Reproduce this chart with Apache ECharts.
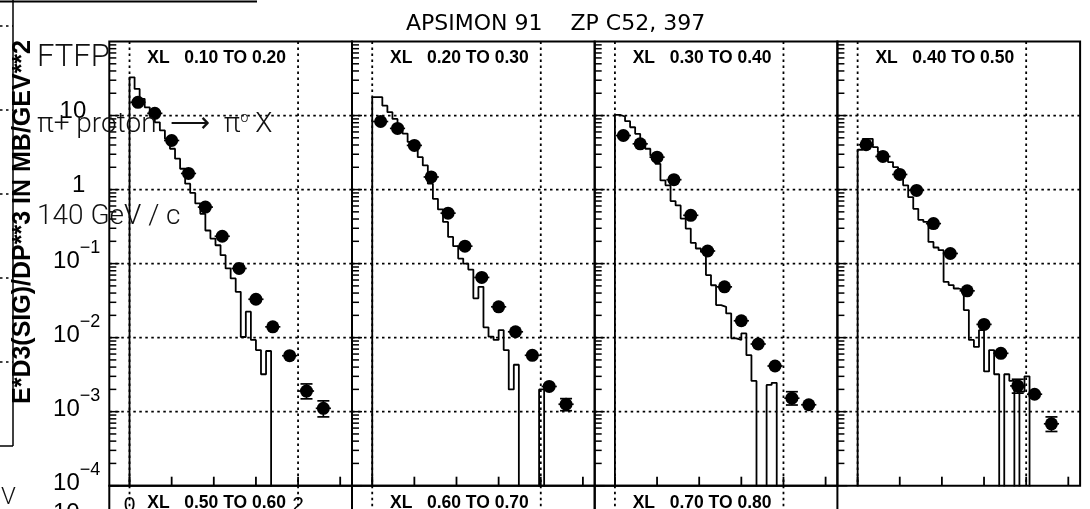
<!DOCTYPE html>
<html>
<head>
<meta charset="utf-8">
<script src="https://cdn.jsdelivr.net/npm/echarts@6.0.0/dist/echarts.min.js"></script>
<style>
html,body{margin:0;padding:0;background:#fff;}
#c{width:1090px;height:509px;}
</style>
</head>
<body>
<div id="c"></div>
<script>
// ---------------- data ----------------
const chartTitle = 'APSIMON 91    ZP C52, 397';
const panelTitles = ['XL   0.10 TO 0.20', 'XL   0.20 TO 0.30', 'XL   0.30 TO 0.40', 'XL   0.40 TO 0.50'];
const nextRowTitles = ['XL   0.50 TO 0.60', 'XL   0.60 TO 0.70', 'XL   0.70 TO 0.80'];
const yAxisTitle = 'E*D3(SIG)/DP**3 IN MB/GEV**2';

// pT of the measured points (GeV/c) and half bin width
const ptPoints = [0.1, 0.3, 0.5, 0.7, 0.9, 1.1, 1.3, 1.5, 1.7, 1.9, 2.1, 2.3];
const ptHalfWidth = 0.09;

// measured cross sections per XL bin
const data1 = [15.1, 10.7, 4.6, 1.65, 0.58, 0.234, 0.086, 0.033, 0.0140, 0.0057, 0.0019, 0.00111];
const data2 = [8.3, 6.7, 3.95, 1.48, 0.48, 0.172, 0.065, 0.0261, 0.0120, 0.00577, 0.00219, 0.00126];
const data3 = [5.37, 4.15, 2.74, 1.36, 0.449, 0.148, 0.0485, 0.0169, 0.0082, 0.00414, 0.00152, 0.00124];
const data4 = [4.03, 2.80, 1.60, 0.975, 0.347, 0.137, 0.0429, 0.0151, 0.00614, 0.00223, 0.00172, 0.000686];

// visible vertical error bars (null = hidden inside marker)
const errLo1 = [null, null, null, null, null, null, null, null, null, null, 0.00149, 0.00085];
const errHi1 = [null, null, null, null, null, null, null, null, null, null, 0.00237, 0.00140];
const errLo2 = [null, null, null, null, null, null, null, null, null, null, null, 0.00103];
const errHi2 = [null, null, null, null, null, null, null, null, null, null, null, 0.00150];
const errLo3 = [null, null, null, null, null, null, null, null, null, null, 0.00123, null];
const errHi3 = [null, null, null, null, null, null, null, null, null, null, 0.00186, null];
const errLo4 = [null, null, null, null, null, null, null, null, null, 0.00178, null, 0.00054];
const errHi4 = [null, null, null, null, null, null, null, null, null, 0.00274, null, 0.00085];

// FTFP Monte Carlo histograms, bins of 0.06 GeV/c starting at 0
const histBinWidth = 0.06;
const hist1 = [32.8, 22.9, 16.8, 12.9, 10.5, 8.1, 6.3, 4.85, 3.56, 2.61, 1.91, 1.20, 0.90, 0.65, 0.47, 0.28,
  0.218, 0.177, 0.130, 0.086, 0.063, 0.0416, 0.0102, 0.0224, 0.0093, 0.0068, 0.0032, 0.0066];
const hist2 = [17.7, 17.7, 13.6, 11.1, 9.0, 7.3, 5.7, 4.4, 3.7, 2.74, 2.12, 1.20, 0.75, 0.54, 0.365, 0.229,
  0.172, 0.117, 0.100, 0.083, 0.034, 0.0485, 0.0138, 0.0103, 0.0093, 0.0126, 0.0068, 0.0020, 0.0043,
  0, 0, 0, 0, 0.0020];
const hist3 = [10.2, 9.7, 8.4, 6.95, 5.66, 4.37, 3.56, 2.89, 2.23, 1.33, 1.14, 0.70, 0.61, 0.406, 0.297, 0.190,
  0.160, 0.144, 0.070, 0.051, 0.0275, 0.0261, 0.0212, 0.0098, 0.0093, 0.0114, 0.0058, 0.0026, 0, 0,
  0.0023, 0.00245];
const hist4 = [3.45, 4.85, 4.85, 3.74, 3.2, 2.74, 2.35, 2.01, 1.82, 1.14, 0.79, 0.55, 0.39, 0.365, 0.196, 0.165,
  0.152, 0.0566, 0.0512, 0.0461, 0.0439, 0.0236, 0.0093, 0.0075, 0.0126, 0.0035, 0.0068, 0.0032, 0,
  0.0032, 0.0026, 0, 0.00186, 0.0030];

// axis ticks / labels
const xRange = [-0.24, 2.64];
const yRange = [1e-4, 100];
const xTickValues = [0, 0.5, 1, 1.5, 2, 2.5];
const xGridValues = [0, 2];
const xLabelValues = [0, 2];
const xLabelTexts = ['0', '2'];
const yGridValues = [1e-3, 1e-2, 1e-1, 1, 10];
const yLabelExponents = [-4, -3, -2, -1, 0, 1];
const yLabelTexts = ['10{s|−4}', '10{s|−3}', '10{s|−2}', '10{s|−1}', '{p|1}', '{q|10}'];

// ---------------- layout ----------------
const gridLefts = [109.3, 352, 594.7, 837.4];
const gridWidth = 242.7;
const gridTop = 41.5;
const gridHeight = 444.2;

const chart = echarts.init(document.getElementById('c'), null, {renderer: 'canvas'});

const grids = [], xAxes = [], yAxes = [], series = [];
const dataSets = [data1, data2, data3, data4];
const errLoSets = [errLo1, errLo2, errLo3, errLo4];
const errHiSets = [errHi1, errHi2, errHi3, errHi4];
const histSets = [hist1, hist2, hist3, hist4];
const FONT = '"Liberation Sans", Arial, sans-serif';

function ln(x1, y1, x2, y2, style) {
  return {type: 'line', shape: {x1: x1, y1: y1, x2: x2, y2: y2}, style: style};
}

function decorSeries(idx, title, topRow) {
  return {
    type: 'custom', xAxisIndex: idx, yAxisIndex: idx, data: [[1, 1]], silent: true, z: 1, clip: false,
    renderItem: function (params, api) {
      const cs = params.coordSys;
      const ch = [];
      const dotted = {stroke: '#000', lineWidth: 1.8, lineDash: [2.5, 3.5]};
      const solid = {stroke: '#000', lineWidth: 1.5};
      xGridValues.forEach(function (v) {
        const px = api.coord([v, 1])[0];
        ch.push(ln(px, cs.y, px, cs.y + cs.height, dotted));
      });
      if (topRow) {
        yGridValues.forEach(function (v) {
          const py = api.coord([1, v])[1];
          ch.push(ln(cs.x, py, cs.x + cs.width, py, dotted));
        });
        for (let d = -4; d <= 1; d++) {
          for (let m = 1; m <= 9; m++) {
            const v = m * Math.pow(10, d);
            const py = api.coord([1, v])[1];
            const len = m === 1 ? 10 : 7;
            ch.push(ln(cs.x, py, cs.x + len, py, solid));
          }
        }
        xTickValues.forEach(function (v) {
          const px = api.coord([v, 1])[0];
          const yb = cs.y + cs.height;
          ch.push(ln(px, yb, px, yb - 9, {stroke: '#000', lineWidth: 1.8}));
        });
      }
      ch.push({
        type: 'text', x: cs.x + 38, y: cs.y + 8,
        style: {text: title, font: 'bold 17.5px ' + FONT, fill: '#000',
          textAlign: 'left', textVerticalAlign: 'top', align: 'left', verticalAlign: 'top'}
      });
      return {type: 'group', children: ch};
    }
  };
}

function histLine(vals) {
  const floor = 1e-9;
  const pts = [[0, floor]];
  vals.forEach(function (v, k) { pts.push([k * histBinWidth, v > 0 ? v : floor]); });
  pts.push([vals.length * histBinWidth, floor]);
  return pts;
}

// top row
for (let i = 0; i < 4; i++) {
  grids.push({left: gridLefts[i], top: gridTop, width: gridWidth, height: gridHeight,
    show: true, borderColor: '#000', borderWidth: 2, backgroundColor: 'transparent',
    containLabel: false, outerBoundsMode: 'none'});
  xAxes.push({
    type: 'value', gridIndex: i, min: xRange[0], max: xRange[1],
    axisLine: {show: false}, axisTick: {show: false}, splitLine: {show: false},
    axisLabel: i === 0 ? {
      show: true, customValues: xLabelValues, margin: 9, color: '#000', fontSize: 21, fontFamily: FONT,
      formatter: function (v) { const k = xLabelValues.indexOf(Math.round(v * 100) / 100); return k >= 0 ? xLabelTexts[k] : ''; }
    } : {show: false}
  });
  yAxes.push({
    type: 'log', logBase: 10, gridIndex: i, min: yRange[0], max: yRange[1], splitNumber: 6,
    axisLine: {show: false}, axisTick: {show: false}, splitLine: {show: false},
    axisLabel: i === 0 ? {
      show: true, margin: 9, showMaxLabel: false, color: '#000',
      formatter: function (v) {
        const e = Math.round(Math.log10(v));
        const k = yLabelExponents.indexOf(e);
        return k >= 0 ? yLabelTexts[k] : '';
      },
      rich: {
        s: {fontSize: 18, fontFamily: FONT, color: '#000', lineHeight: 20, verticalAlign: 'top'},
        p: {fontSize: 24, fontFamily: FONT, color: '#000', lineHeight: 46, padding: [0, 15, 4, 0]},
        q: {fontSize: 24, fontFamily: FONT, color: '#000', lineHeight: 46, padding: [0, 14, 4, 0]}
      },
      fontSize: 24, fontFamily: FONT, lineHeight: 46, padding: [0, 0, 4, 0]
    } : {show: false}
  });
  series.push(decorSeries(i, panelTitles[i], true));
  series.push({
    type: 'line', xAxisIndex: i, yAxisIndex: i, step: 'end', symbol: 'none', silent: true, z: 3,
    lineStyle: {color: '#000', width: 1.8}, data: histLine(histSets[i]), clip: true, animation: false
  });
  const errData = ptPoints.map(function (x, k) {
    return [x, dataSets[i][k], errLoSets[i][k] || 0, errHiSets[i][k] || 0];
  });
  series.push({
    type: 'custom', xAxisIndex: i, yAxisIndex: i, z: 4, silent: true, data: errData,
    encode: {x: 0, y: 1},
    renderItem: function (params, api) {
      const x = api.value(0), y = api.value(1), lo = api.value(2), hi = api.value(3);
      const c = api.coord([x, y]);
      const l = api.coord([x - ptHalfWidth, y]), r = api.coord([x + ptHalfWidth, y]);
      const st = {stroke: '#000', lineWidth: 1.7};
      const ch = [ln(l[0], c[1], r[0], c[1], st)];
      if (lo > 0 && hi > 0) {
        const a = api.coord([x, hi]), b = api.coord([x, lo]);
        ch.push(ln(c[0], a[1], c[0], b[1], st));
        ch.push(ln(c[0] - 6, a[1], c[0] + 6, a[1], st));
        ch.push(ln(c[0] - 6, b[1], c[0] + 6, b[1], st));
      }
      return {type: 'group', children: ch};
    }
  });
  series.push({
    type: 'scatter', xAxisIndex: i, yAxisIndex: i, z: 5, silent: true, symbol: 'circle', symbolSize: 13,
    itemStyle: {color: '#000', opacity: 1}, data: ptPoints.map(function (x, k) { return [x, dataSets[i][k]]; })
  });
}

// next row (cut off by the picture edge)
for (let i = 0; i < 3; i++) {
  const gi = 4 + i;
  grids.push({left: gridLefts[i], top: gridTop + gridHeight, width: gridWidth, height: gridHeight,
    show: true, borderColor: '#000', borderWidth: 2, backgroundColor: 'transparent',
    containLabel: false, outerBoundsMode: 'none'});
  xAxes.push({type: 'value', gridIndex: gi, min: xRange[0], max: xRange[1], show: false});
  yAxes.push({type: 'log', logBase: 10, gridIndex: gi, min: yRange[0], max: yRange[1], show: false});
  series.push(decorSeries(gi, nextRowTitles[i], false));
}

function tf(size) { return '300 ' + size + 'px Roboto, "Liberation Sans", sans-serif'; }

const option = {
  animation: false,
  backgroundColor: '#fff',
  title: {
    text: chartTitle, left: 401, top: 8,
    textStyle: {fontSize: 22, fontWeight: 'normal', fontFamily: '"DejaVu Sans", sans-serif', color: '#000'}
  },
  grid: grids, xAxis: xAxes, yAxis: yAxes, series: series,
  graphic: [
    // remains of the neighbouring picture on the left
    {type: 'line', shape: {x1: 13, y1: 0, x2: 13, y2: 446}, style: {stroke: '#000', lineWidth: 1.5}, z: 0},
    {type: 'line', shape: {x1: 0, y1: 446, x2: 13, y2: 446}, style: {stroke: '#000', lineWidth: 1.5}, z: 0},
    {type: 'line', shape: {x1: 0, y1: 1.5, x2: 257, y2: 1.5}, style: {stroke: '#000', lineWidth: 2}, z: 0},
    {type: 'line', shape: {x1: 0, y1: 26, x2: 13, y2: 26}, style: {stroke: '#000', lineWidth: 1.5, lineDash: [2.5, 3.5]}, z: 0},
    {type: 'line', shape: {x1: 0, y1: 110, x2: 13, y2: 110}, style: {stroke: '#000', lineWidth: 1.5, lineDash: [2.5, 3.5]}, z: 0},
    {type: 'line', shape: {x1: 0, y1: 194, x2: 13, y2: 194}, style: {stroke: '#000', lineWidth: 1.5, lineDash: [2.5, 3.5]}, z: 0},
    {type: 'line', shape: {x1: 0, y1: 278, x2: 13, y2: 278}, style: {stroke: '#000', lineWidth: 1.5, lineDash: [2.5, 3.5]}, z: 0},
    {type: 'line', shape: {x1: 0, y1: 362, x2: 13, y2: 362}, style: {stroke: '#000', lineWidth: 1.5, lineDash: [2.5, 3.5]}, z: 0},
    {type: 'text', x: 1, y: 486, style: {text: 'V', font: tf(24), fill: '#111'}, z: 10},
    {type: 'text', x: 53, y: 501, style: {text: '10', font: '24px ' + FONT, fill: '#000'}, z: 10},
    // y axis title
    {type: 'text', x: 11, y: 222, rotation: Math.PI / 2,
      style: {text: yAxisTitle, font: 'bold 25px ' + FONT, fill: '#000',
        textAlign: 'center', textVerticalAlign: 'top', align: 'center', verticalAlign: 'top'}, z: 10},
    // overlay annotations
    {type: 'text', x: 37, y: 43, style: {text: 'FTFP', font: tf(31), fill: '#111'}, z: 20},
    {type: 'text', x: 37, y: 111, style: {
      text: '{n|π+ proton  ⟶  π}{s|o}{n| X}',
      rich: {n: {font: tf(28), fill: '#111'}, s: {font: tf(14), fill: '#111', verticalAlign: 'top', lineHeight: 28}}
    }, z: 20},
    {type: 'text', x: 37, y: 203, style: {text: '140 GeV / c', font: tf(28), fill: '#111'}, z: 20}
  ]
};
chart.setOption(option);
</script>
</body>
</html>
